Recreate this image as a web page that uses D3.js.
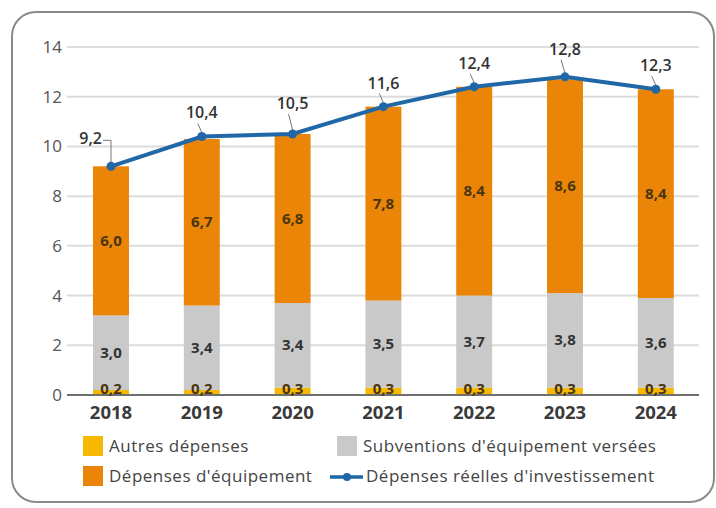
<!DOCTYPE html>
<html>
<head>
<meta charset="utf-8">
<script src="https://cdn.jsdelivr.net/npm/d3@7"></script>
<style>
  body { margin: 0; background: #fff; }
  svg { display: block; font-family: "Open Sans", "Noto Sans", sans-serif; }
</style>
</head>
<body>
<svg id="chart" width="716" height="508"></svg>
<script>
// ---- data ----
const years = ["2018", "2019", "2020", "2021", "2022", "2023", "2024"];
const autres = [0.2, 0.2, 0.3, 0.3, 0.3, 0.3, 0.3];
const subventions = [3.0, 3.4, 3.4, 3.5, 3.7, 3.8, 3.6];
const equipement = [6.0, 6.7, 6.8, 7.8, 8.4, 8.6, 8.4];
const totalReel = [9.2, 10.4, 10.5, 11.6, 12.4, 12.8, 12.3];
const yTicks = [0, 2, 4, 6, 8, 10, 12, 14];

const fmt = v => d3.format(".1f")(v).replace(".", ",");

const colors = {
  autres: "#f6b800",
  subventions: "#c9c9c9",
  equipement: "#ea8507",
  line: "#1f67a6"
};

const svg = d3.select("#chart");

// outer rounded frame
svg.append("rect")
  .attr("x", 12).attr("y", 12)
  .attr("width", 702).attr("height", 490)
  .attr("rx", 24)
  .attr("fill", "none")
  .attr("stroke", "#8a8a8a")
  .attr("stroke-width", 2);

const x = d3.scaleBand()
  .domain(years)
  .range([65.6, 701.2])
  .paddingInner(0.604)
  .paddingOuter(0.302);

const y = d3.scaleLinear()
  .domain([0, 14])
  .range([395, 47]);

// gridlines
svg.append("g")
  .selectAll("line")
  .data(yTicks.filter(d => d > 0))
  .join("line")
  .attr("x1", 67).attr("x2", 699)
  .attr("y1", d => y(d)).attr("y2", d => y(d))
  .attr("stroke", "#dcdcdc")
  .attr("stroke-width", 2);

// y axis labels
const yAxis = svg.append("g")
  .attr("transform", "translate(67,0)")
  .call(d3.axisLeft(y).tickValues(yTicks).tickSize(0).tickPadding(5));
yAxis.select(".domain").remove();
yAxis.selectAll("text")
  .attr("font-size", 17)
  .attr("font-family", "'Open Sans', sans-serif")
  .attr("fill", "#555");

// stacked bars
const stackData = years.map((yr, i) => ({
  year: yr,
  autres: autres[i],
  subventions: subventions[i],
  equipement: equipement[i]
}));
const keys = ["autres", "subventions", "equipement"];
const series = d3.stack().keys(keys)(stackData);

svg.append("g")
  .selectAll("g")
  .data(series)
  .join("g")
  .attr("fill", d => colors[d.key])
  .selectAll("rect")
  .data(d => d)
  .join("rect")
  .attr("x", d => x(d.data.year))
  .attr("y", d => y(d[1]))
  .attr("width", x.bandwidth())
  .attr("height", d => y(d[0]) - y(d[1]));

// baseline
svg.append("line")
  .attr("x1", 67).attr("x2", 699)
  .attr("y1", y(0)).attr("y2", y(0))
  .attr("stroke", "#6f6f6f")
  .attr("stroke-width", 2);

// x axis labels
svg.append("g")
  .selectAll("text")
  .data(years)
  .join("text")
  .attr("x", d => x(d) + x.bandwidth() / 2)
  .attr("y", 419)
  .attr("text-anchor", "middle")
  .attr("font-size", 18.5)
  .attr("font-weight", "bold")
  .attr("fill", "#3a3a3a")
  .text(d => d);

// segment labels
const segLabels = svg.append("g")
  .attr("font-size", 15)
  .attr("font-weight", "bold")
  .attr("text-anchor", "middle");

series.forEach(s => {
  segLabels.selectAll(null)
    .data(s)
    .join("text")
    .attr("x", d => x(d.data.year) + x.bandwidth() / 2)
    .attr("y", d => s.key === "autres" ? y(0) - 1 : (y(d[0]) + y(d[1])) / 2 + 5)
    .attr("fill", s.key === "subventions" ? "#333" : "#4a3510")
    .text(d => fmt(d[1] - d[0]));
});

// total line
const cx = d => x(d) + x.bandwidth() / 2;
const lineData = years.map((yr, i) => ({ year: yr, v: totalReel[i] }));

svg.append("path")
  .datum(lineData)
  .attr("fill", "none")
  .attr("stroke", colors.line)
  .attr("stroke-width", 4)
  .attr("d", d3.line().x(d => cx(d.year)).y(d => y(d.v)));

svg.append("g")
  .selectAll("circle")
  .data(lineData)
  .join("circle")
  .attr("cx", d => cx(d.year))
  .attr("cy", d => y(d.v))
  .attr("r", 4.5)
  .attr("fill", colors.line);

// line value labels with small leaders
const lbl = svg.append("g");
lineData.forEach((d, i) => {
  const px = cx(d.year), py = y(d.v);
  if (i === 0) {
    lbl.append("path")
      .attr("d", `M${px - 8},${py - 26}H${px}V${py - 4}`)
      .attr("fill", "none").attr("stroke", "#777").attr("stroke-width", 1);
    lbl.append("text")
      .attr("x", px - 9).attr("y", py - 22)
      .attr("text-anchor", "end")
      .attr("font-size", 16).attr("font-weight", 600).attr("fill", "#333")
      .text(fmt(d.v));
  } else {
    const up = i === 2 ? 28 : (i === 5 ? 25 : 21);
    lbl.append("line")
      .attr("x1", px - 4).attr("y1", py - up + 8)
      .attr("x2", px).attr("y2", py - 4)
      .attr("stroke", "#777").attr("stroke-width", 1);
    lbl.append("text")
      .attr("x", px).attr("y", py - up + 3)
      .attr("text-anchor", "middle")
      .attr("font-size", 16).attr("font-weight", 600).attr("fill", "#333")
      .text(fmt(d.v));
  }
});

// legend
const legend = svg.append("g")
  .attr("font-size", 17)
  .attr("letter-spacing", 0.5)
  .attr("fill", "#444");

const legendItems = [
  { label: "Autres dépenses", color: colors.autres, lx: 83, ly: 436, type: "box" },
  { label: "Subventions d'équipement versées", color: colors.subventions, lx: 337, ly: 436, type: "box" },
  { label: "Dépenses d'équipement", color: colors.equipement, lx: 83, ly: 466, type: "box" },
  { label: "Dépenses réelles d'investissement", color: colors.line, lx: 330, ly: 466, type: "line" }
];

legendItems.forEach(it => {
  if (it.type === "box") {
    legend.append("rect")
      .attr("x", it.lx).attr("y", it.ly)
      .attr("width", 20).attr("height", 20)
      .attr("fill", it.color);
    legend.append("text")
      .attr("x", it.lx + 26).attr("y", it.ly + 16)
      .attr("fill", "#444")
      .text(it.label);
  } else {
    legend.append("line")
      .attr("x1", it.lx).attr("x2", it.lx + 33)
      .attr("y1", it.ly + 11).attr("y2", it.ly + 11)
      .attr("stroke", it.color).attr("stroke-width", 3.5);
    legend.append("circle")
      .attr("cx", it.lx + 17).attr("cy", it.ly + 11)
      .attr("r", 4).attr("fill", it.color);
    legend.append("text")
      .attr("x", it.lx + 36).attr("y", it.ly + 16)
      .attr("fill", "#444")
      .text(it.label);
  }
});
</script>
</body>
</html>
